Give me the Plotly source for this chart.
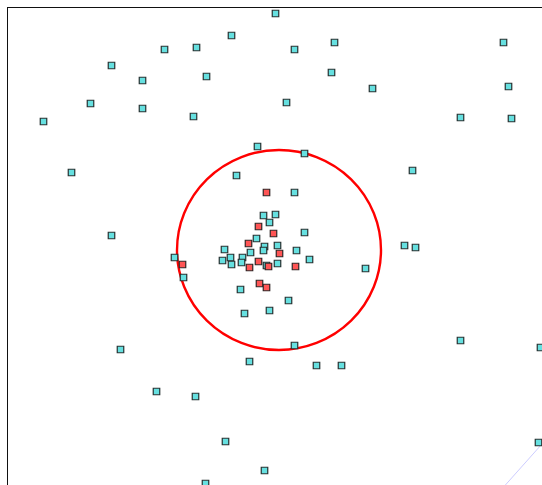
import plotly.graph_objects as go

# positions (picture pixels, y pointing down)
teal_x = [275, 231, 196, 164, 294, 334, 503, 111, 142, 206, 331, 372, 508, 90, 142, 193, 286, 43, 460, 511,
          257, 304, 71, 236, 412, 294, 263, 275, 269, 304, 256, 264, 277, 263, 250, 224, 296, 309, 230, 242,
          222, 231, 241, 266, 277, 174, 183, 240, 288, 269, 244, 111, 404, 415, 365, 294, 460, 540, 120, 249,
          316, 341, 156, 195, 225, 538, 264, 205]
teal_y = [13, 35, 47, 49, 49, 42, 42, 65, 80, 76, 72, 88, 86, 103, 108, 116, 102, 121, 117, 118,
          146, 153, 172, 175, 170, 192, 215, 214, 222, 232, 238, 246, 245, 250, 252, 249, 250, 259, 257, 257,
          260, 264, 262, 265, 263, 257, 277, 289, 300, 310, 313, 235, 245, 247, 268, 345, 340, 347, 349, 361,
          365, 365, 391, 396, 441, 442, 470, 483]

red_x = [266, 258, 273, 248, 279, 258, 268, 295, 249, 182, 259, 266]
red_y = [192, 226, 233, 243, 253, 261, 266, 266, 267, 264, 283, 287]

# faint edge running off the lower right corner
edge_x = [541, 500]
edge_y = [444, 490]

circle_x = [176.5, 380.5]
circle_y = [149.5, 349.5]

fig = go.Figure()
fig.add_trace(go.Scatter(x=edge_x, y=edge_y, mode='lines', line=dict(color='#ccccff', width=1)))
fig.add_trace(go.Scatter(x=teal_x, y=teal_y, mode='markers',
                         marker=dict(symbol='square', size=6.5, color='#66e0e0',
                                     line=dict(color='#263232', width=1.2))))
fig.add_trace(go.Scatter(x=red_x, y=red_y, mode='markers',
                         marker=dict(symbol='square', size=6.5, color='#ff5555',
                                     line=dict(color='#322626', width=1.2))))

fig.add_shape(type='circle', xref='x', yref='y', layer='below',
              x0=circle_x[0], x1=circle_x[1], y0=circle_y[0], y1=circle_y[1],
              line=dict(color='#ff0000', width=2.4))

fig.update_layout(width=542, height=485, showlegend=False,
                  margin=dict(l=8, r=0, t=8, b=0),
                  paper_bgcolor='white', plot_bgcolor='white',
                  xaxis=dict(range=[7.5, 541.5], side='top', showgrid=False, zeroline=False, showticklabels=False,
                             ticks='', showline=True, linecolor='#111111', linewidth=1),
                  yaxis=dict(range=[484.5, 7.5], showgrid=False, zeroline=False, showticklabels=False,
                             ticks='', showline=True, linecolor='#111111', linewidth=1))

fig.write_html("out.html", config={'displayModeBar': False},
               post_script="document.body.style.margin='0';")
